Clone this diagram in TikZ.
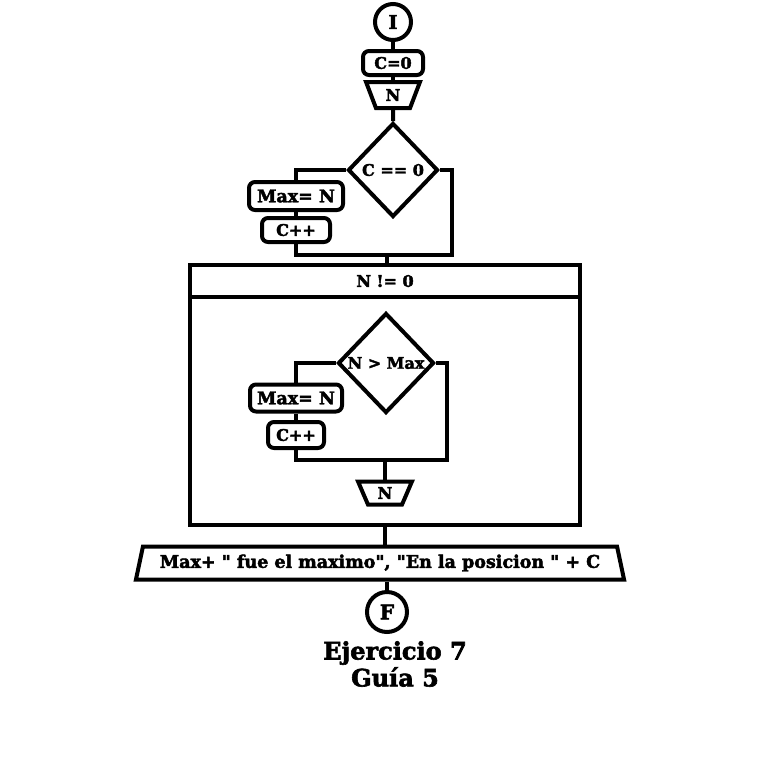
\documentclass[tikz,border=0pt]{standalone}
\usepackage{fontspec}
\setmainfont{DejaVu Serif}[Ligatures=TeXOff, BoldFeatures={FakeBold=2.5}]
\usetikzlibrary{shapes.geometric}
\begin{document}
\begin{tikzpicture}[x=1pt,y=-1pt,
  every node/.style={font=\bfseries\fontsize{16}{18}\selectfont, inner sep=0pt},
  big/.style={font=\bfseries\fontsize{17.5}{19}\selectfont},
  ln/.style={line width=4pt},
  term/.style={draw, circle, line width=4pt},
  proc/.style={draw, rectangle, rounded corners=6pt, line width=4pt},
  inp/.style={draw, trapezium, trapezium stretches=true, shape border rotate=180,
    trapezium left angle=70, trapezium right angle=70, line width=4pt},
  outp/.style={draw, trapezium, trapezium stretches=true,
    trapezium left angle=69, trapezium right angle=69, line width=4pt},
  dec/.style={draw, diamond, line width=4pt},
  loopbox/.style={draw, rectangle, line width=4pt},
  title/.style={font=\bfseries\fontsize{24}{26}\selectfont}
]
\useasboundingbox (0,0) rectangle (780,780);

% start and initialisation
\node[term, minimum size=36pt, font=\bfseries\fontsize{19}{21}\selectfont] (I) at (393,22) {I};
\node[proc, minimum width=60pt, minimum height=24pt] (C0) at (393,63) {C=0};
\node[inp, minimum width=54pt, minimum height=26pt] (N1) at (393,95) {N};

% first test
\node[dec, minimum width=90pt, minimum height=94pt] (D1) at (393,170) {C == 0};
\node[proc, big, minimum width=94pt, minimum height=28pt] (M1) at (296,196) {Max= N};
\node[proc, minimum width=68pt, minimum height=24pt] (C1) at (296,230) {C++};
\coordinate (j1l) at (296,255);
\coordinate (j1r) at (452,255);
\coordinate (j1) at (387,255);

% while loop
\node[loopbox, minimum width=390pt, minimum height=260pt] (L) at (385,395) {};
\node[loopbox, minimum width=390pt, minimum height=32pt] (H) at (385,281) {N != 0};

\node[dec, minimum width=96pt, minimum height=100pt] (D2) at (386,363) {N > Max};
\node[proc, big, minimum width=92pt, minimum height=27pt] (M2) at (296,398) {Max= N};
\node[proc, minimum width=56pt, minimum height=26pt] (C2) at (296,435) {C++};
\coordinate (j2l) at (296,460);
\coordinate (j2r) at (447,460);
\coordinate (j2) at (385,460);
\node[inp, minimum width=54pt, minimum height=23pt] (N2) at (385,493) {N};

% output and end
\node[outp, big, minimum width=490pt, minimum height=33pt] (O) at (380,563)
  {Max+ " fue el maximo", "En la posicion " + C};
\node[term, minimum size=40pt, font=\bfseries\fontsize{20}{22}\selectfont] (F) at (387,612) {F};

\node[title] (t1) at (395,653) {Ejercicio 7};
\node[title] (t2) at (395,677) {Guía 5};

% connectors
\draw[ln] (I) -- (C0);
\draw[ln] (C0) -- (N1);
\draw[ln] (N1) -- (D1);
\draw[ln] (D1.west) -| (M1.north);
\draw[ln] (M1) -- (C1);
\draw[ln] (C1.south) -- (j1l) -- (j1r) |- (D1.east);
\draw[ln] (j1) -- (j1 |- H.north);

\draw[ln] (D2.west) -| (M2.north);
\draw[ln] (M2) -- (C2);
\draw[ln] (C2.south) -- (j2l) -- (j2r) |- (D2.east);
\draw[ln] (j2) -- (j2 |- N2.north);

\draw[ln] (L.south) -- (L.south |- O.north);
\draw[ln] (O.south -| F) -- (F);
\end{tikzpicture}
\end{document}
